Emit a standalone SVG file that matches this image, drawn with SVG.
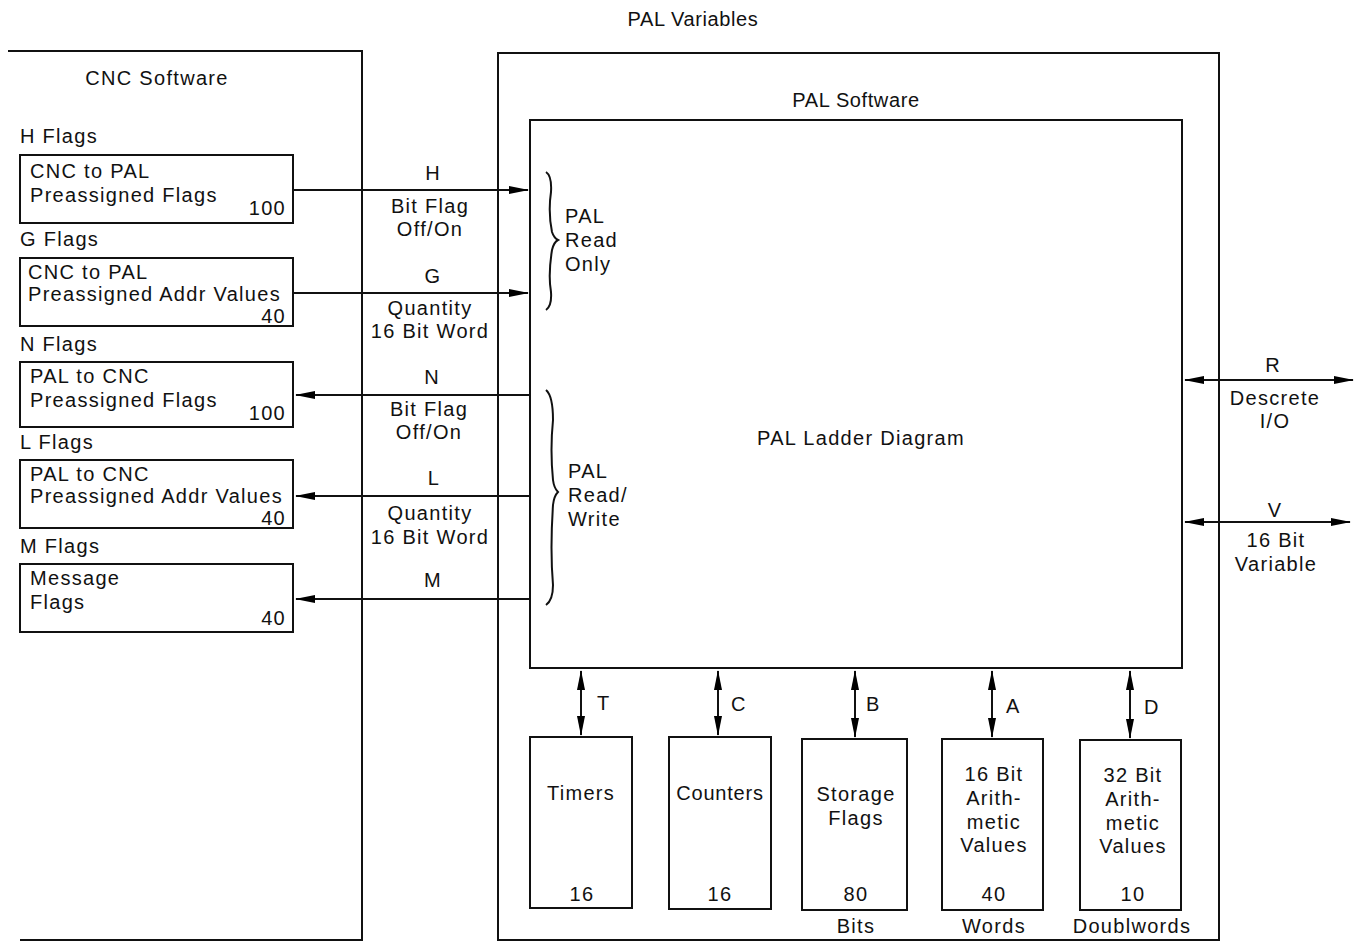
<svg xmlns="http://www.w3.org/2000/svg" width="1364" height="943" viewBox="0 0 1364 943">
<defs>
<marker id="ah" viewBox="0 0 20 10" refX="19" refY="5" markerWidth="20" markerHeight="10" markerUnits="userSpaceOnUse" orient="auto-start-reverse">
<path d="M0,1 L20,5 L0,9 Z" fill="#000"/>
</marker>
<style>
text{font-family:"Liberation Sans",Arial,sans-serif;font-size:20px;letter-spacing:1.3px;fill:#111}
.c{text-anchor:middle}
.r{text-anchor:end}
.box{fill:none;stroke:#111;stroke-width:2}
.ln{fill:none;stroke:#111;stroke-width:2}
.ar{stroke:#111;stroke-width:2;fill:none;marker-end:url(#ah)}
.dar{stroke:#111;stroke-width:2;fill:none;marker-end:url(#ah);marker-start:url(#ah)}
</style>
</defs>
<rect width="1364" height="943" fill="#fff"/>

<g id="cnc-software">
<path class="ln" d="M8,51 L362,51 L362,940 L20,940"/>
<text class="c" x="157" y="85">CNC Software</text>
</g>

<g id="pal-variables">
<rect class="box" x="498" y="53" width="721" height="887"/>
<text class="c" x="693" y="26" style="letter-spacing:0.6px">PAL Variables</text>
<text class="c" x="856" y="107" style="letter-spacing:0.6px">PAL Software</text>
</g>

<g id="ladder">
<rect class="box" x="530" y="120" width="652" height="548"/>
<text class="c" x="861" y="445">PAL Ladder Diagram</text>
</g>

<g id="h-flags">
<text x="20" y="143">H Flags</text>
<rect class="box" x="20" y="155" width="273" height="68"/>
<text x="30" y="178">CNC to PAL</text>
<text x="30" y="202">Preassigned Flags</text>
<text class="r" x="286" y="215">100</text>
</g>
<g id="g-flags">
<text x="20" y="246">G Flags</text>
<rect class="box" x="20" y="258" width="273" height="68"/>
<text x="28" y="279">CNC to PAL</text>
<text x="28" y="301">Preassigned Addr Values</text>
<text class="r" x="286" y="323">40</text>
</g>
<g id="n-flags">
<text x="20" y="351">N Flags</text>
<rect class="box" x="20" y="362" width="273" height="65"/>
<text x="30" y="383">PAL to CNC</text>
<text x="30" y="407">Preassigned Flags</text>
<text class="r" x="286" y="420">100</text>
</g>
<g id="l-flags">
<text x="20" y="449">L Flags</text>
<rect class="box" x="20" y="460" width="273" height="68"/>
<text x="30" y="481">PAL to CNC</text>
<text x="30" y="503">Preassigned Addr Values</text>
<text class="r" x="286" y="525">40</text>
</g>
<g id="m-flags">
<text x="20" y="553">M Flags</text>
<rect class="box" x="20" y="564" width="273" height="68"/>
<text x="30" y="585">Message</text>
<text x="30" y="609">Flags</text>
<text class="r" x="286" y="625">40</text>
</g>

<g id="timers">
<rect class="box" x="530" y="737" width="102" height="171"/>
<text class="c" x="581" y="800">Timers</text>
<text class="c" x="582" y="901">16</text>
</g>
<g id="counters">
<rect class="box" x="669" y="737" width="102" height="172"/>
<text class="c" x="720" y="800" style="letter-spacing:0.8px">Counters</text>
<text class="c" x="720" y="901">16</text>
</g>
<g id="storage">
<rect class="box" x="802" y="739" width="105" height="171"/>
<text class="c" x="856" y="801">Storage</text>
<text class="c" x="856" y="825">Flags</text>
<text class="c" x="856" y="901">80</text>
<text class="c" x="856" y="933">Bits</text>
</g>
<g id="arith16">
<rect class="box" x="942" y="739" width="101" height="171"/>
<text class="c" x="994" y="781">16 Bit</text>
<text class="c" x="994" y="805">Arith-</text>
<text class="c" x="994" y="829">metic</text>
<text class="c" x="994" y="852">Values</text>
<text class="c" x="994" y="901">40</text>
<text class="c" x="994" y="933">Words</text>
</g>
<g id="arith32">
<rect class="box" x="1080" y="740" width="101" height="170"/>
<text class="c" x="1133" y="782">32 Bit</text>
<text class="c" x="1133" y="806">Arith-</text>
<text class="c" x="1133" y="830">metic</text>
<text class="c" x="1133" y="853">Values</text>
<text class="c" x="1133" y="901">10</text>
<text class="c" x="1132" y="933">Doublwords</text>
</g>

<g id="braces">
<path class="ln" stroke-width="1.6" d="M546,172 Q552,176 551,192 Q548,212 552,232 Q554,238 558,240 Q554,242 552,250 Q548,275 551,292 Q552,306 546,310"/>
<text x="565" y="223">PAL</text>
<text x="565" y="247">Read</text>
<text x="565" y="271">Only</text>
<path class="ln" stroke-width="1.6" d="M546,390 Q553,396 553,420 Q550,450 553,480 Q554,488 558,492 Q554,496 553,505 Q550,550 553,585 Q553,600 546,605"/>
<text x="568" y="478">PAL</text>
<text x="568" y="502">Read/</text>
<text x="568" y="526">Write</text>
</g>

<g id="connectors">
<line class="ar" x1="293" y1="190" x2="528" y2="190"/>
<line class="ar" x1="293" y1="293" x2="528" y2="293"/>
<line class="ar" x1="530" y1="395" x2="296" y2="395"/>
<line class="ar" x1="530" y1="496" x2="296" y2="496"/>
<line class="ar" x1="530" y1="599" x2="296" y2="599"/>
<line class="dar" x1="1185" y1="380" x2="1353" y2="380"/>
<line class="dar" x1="1185" y1="522" x2="1350" y2="522"/>
<line class="dar" x1="581" y1="671" x2="581" y2="735"/>
<line class="dar" x1="718" y1="671" x2="718" y2="735"/>
<line class="dar" x1="855" y1="671" x2="855" y2="737"/>
<line class="dar" x1="992" y1="671" x2="992" y2="737"/>
<line class="dar" x1="1130" y1="671" x2="1130" y2="738"/>
</g>

<g id="connector-labels">
<text class="c" x="433" y="180">H</text>
<text class="c" x="430" y="213">Bit Flag</text>
<text class="c" x="430" y="236">Off/On</text>
<text class="c" x="433" y="283">G</text>
<text class="c" x="430" y="315">Quantity</text>
<text class="c" x="430" y="338">16 Bit Word</text>
<text class="c" x="432" y="384">N</text>
<text class="c" x="429" y="416">Bit Flag</text>
<text class="c" x="429" y="439">Off/On</text>
<text class="c" x="434" y="485">L</text>
<text class="c" x="430" y="520">Quantity</text>
<text class="c" x="430" y="544">16 Bit Word</text>
<text class="c" x="433" y="587">M</text>
<text class="c" x="1273" y="372">R</text>
<text class="c" x="1275" y="405">Descrete</text>
<text class="c" x="1275" y="428">I/O</text>
<text class="c" x="1275" y="517">V</text>
<text class="c" x="1276" y="547">16 Bit</text>
<text class="c" x="1276" y="571">Variable</text>
<text x="597" y="710">T</text>
<text x="731" y="711">C</text>
<text x="866" y="711">B</text>
<text x="1006" y="713">A</text>
<text x="1144" y="714">D</text>
</g>
</svg>
